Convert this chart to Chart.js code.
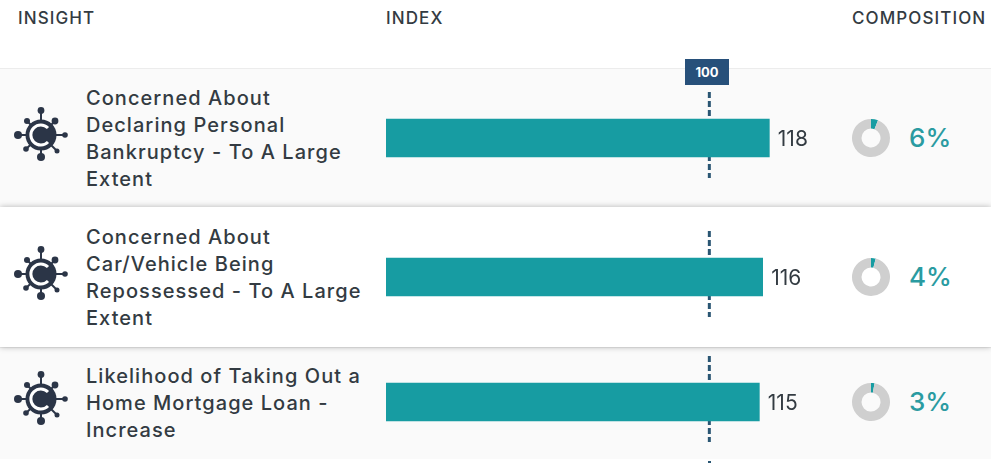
<!DOCTYPE html>
<html>
<head>
<meta charset="utf-8">
<script src="https://cdn.jsdelivr.net/npm/chart.js@4"></script>
<style>
    html, body { margin: 0; padding: 0; background: #fff; }
    #page {
        position: relative; width: 991px; height: 463px; overflow: hidden;
        font-family: Inter, "Open Sans", sans-serif; color: #333b42;
    }
    .head { position: absolute; top: 9px; font-size: 17px; font-weight: 500; line-height: 19px; letter-spacing: 1.1px; white-space: nowrap; }
    .row { position: absolute; left: 0; width: 991px; box-sizing: border-box; }
    .row.grey { background: #fafafa; border-top: 1px solid #ececec; }
    .row.raised { background: #fff; box-shadow: 0 0 6px rgba(0, 0, 0, 0.28); z-index: 1; }
    .label {
        position: absolute; left: 86px; width: 295px; z-index: 2;
        font-size: 20px; font-weight: 500; line-height: 27px; letter-spacing: 1.05px; white-space: nowrap;
    }
    .icon { position: absolute; left: 13px; width: 56px; height: 56px; z-index: 2; }
    .pct { position: absolute; left: 909px; font-size: 26px; font-weight: 500; line-height: 30px; color: #2a9ba1; z-index: 2; }
    canvas { position: absolute; z-index: 2; }
    #refTag {
        position: absolute; left: 685px; top: 59px; width: 44px; height: 26px; z-index: 3;
        background: #27507a; color: #fff; font-size: 13px; font-weight: 700;
        line-height: 26px; text-align: center;
    }
    #stub { position: absolute; left: 708px; top: 461px; width: 3px; height: 2px; background: #2a5673; }
</style>
</head>
<body>
<div id="page">
    <svg width="0" height="0" style="position:absolute">
        <symbol id="insightIcon" viewBox="0 0 56 56">
            <g stroke="#2b3547" stroke-width="2" fill="#2b3547">
                <line x1="28" y1="28" x2="28" y2="3"/>
                <line x1="28" y1="28" x2="52" y2="28"/>
                <line x1="28" y1="28" x2="28" y2="50"/>
                <line x1="28" y1="28" x2="5" y2="28"/>
                <line x1="28" y1="28" x2="42" y2="14"/>
                <line x1="28" y1="28" x2="14" y2="14"/>
                <line x1="28" y1="28" x2="13" y2="42"/>
                <line x1="28" y1="28" x2="44" y2="44"/>
                <circle cx="28" cy="3.5" r="3.4" stroke="none"/>
                <circle cx="52" cy="28" r="2.8" stroke="none"/>
                <circle cx="28" cy="50" r="4" stroke="none"/>
                <circle cx="5" cy="28" r="4" stroke="none"/>
                <circle cx="42" cy="14" r="3.4" stroke="none"/>
                <circle cx="14" cy="14" r="3" stroke="none"/>
                <circle cx="13" cy="42" r="2.8" stroke="none"/>
                <circle cx="44" cy="44" r="2.5" stroke="none"/>
                <circle cx="28" cy="28" r="15.5" stroke="none"/>
            </g>
            <path d="M35 21 A10 10 0 1 0 35 35" fill="none" stroke="#fff" stroke-width="3"/>
        </symbol>
    </svg>
    <div class="head" style="left:18px">INSIGHT</div>
    <div class="head" style="left:386px">INDEX</div>
    <div class="head" style="left:852px">COMPOSITION</div>
    <div id="refTag"></div>
    <div id="stub"></div>
</div>

<script>
// Data
const categories = [
    ['Concerned About', 'Declaring Personal', 'Bankruptcy - To A Large', 'Extent'],
    ['Concerned About', 'Car/Vehicle Being', 'Repossessed - To A Large', 'Extent'],
    ['Likelihood of Taking Out a', 'Home Mortgage Loan -', 'Increase']
];
const indexValues = [118, 116, 115];
const compositionValues = [6, 4, 3];
const referenceIndex = 100;

// Layout of the three rows
const rowTops = [68, 207, 347];
const rowHeights = [139, 140, 112];
const rowStyles = ['grey', 'raised', 'grey'];
const barCenters = [138, 277, 402];
const labelTops = [85, 224, 363];

const teal = '#179ca2';
const page = document.getElementById('page');

document.getElementById('refTag').textContent = referenceIndex;

// Dashed reference line behind the bar, the value to the right of it
const indexDecor = {
    id: 'indexDecor',
    beforeDatasetsDraw(chart) {
        const ctx = chart.ctx;
        const x = chart.scales.x.getPixelForValue(referenceIndex);
        ctx.save();
        ctx.strokeStyle = '#2a5673';
        ctx.lineWidth = 3;
        ctx.setLineDash([6, 3]);
        ctx.beginPath();
        ctx.moveTo(x, 0);
        ctx.lineTo(x, 86);
        ctx.stroke();
        ctx.restore();
    },
    afterDatasetsDraw(chart) {
        const ctx = chart.ctx;
        const bar = chart.getDatasetMeta(0).data[0];
        ctx.save();
        ctx.fillStyle = '#333b42';
        ctx.font = '21px Inter, sans-serif';
        ctx.textBaseline = 'middle';
        ctx.fillText(chart.data.datasets[0].data[0], bar.x + 8.5, bar.y + 2);
        ctx.restore();
    }
};

function addCanvas(left, top, width, height) {
    const canvas = document.createElement('canvas');
    canvas.style.left = left + 'px';
    canvas.style.top = top + 'px';
    canvas.style.width = width + 'px';
    canvas.style.height = height + 'px';
    canvas.width = width;
    canvas.height = height;
    page.appendChild(canvas);
    return canvas;
}

categories.forEach((lines, i) => {
    const row = document.createElement('div');
    row.className = 'row ' + rowStyles[i];
    row.style.top = rowTops[i] + 'px';
    row.style.height = rowHeights[i] + 'px';
    page.appendChild(row);

    const label = document.createElement('div');
    label.className = 'label';
    label.style.top = labelTops[i] + 'px';
    label.innerHTML = lines.join('<br>');
    page.appendChild(label);

    const icon = document.createElementNS('http://www.w3.org/2000/svg', 'svg');
    icon.setAttribute('class', 'icon');
    icon.style.top = (barCenters[i] - 31) + 'px';
    const use = document.createElementNS('http://www.w3.org/2000/svg', 'use');
    use.setAttribute('href', '#insightIcon');
    icon.appendChild(use);
    page.appendChild(icon);

    // Index bar
    new Chart(addCanvas(386, barCenters[i] - 46, 460, 92), {
        type: 'bar',
        data: {
            labels: [lines.join(' ')],
            datasets: [{ data: [indexValues[i]], backgroundColor: teal, barThickness: 38 }]
        },
        options: {
            indexAxis: 'y',
            responsive: false,
            animation: false,
            plugins: { legend: { display: false }, tooltip: { enabled: false } },
            scales: {
                x: { display: false, min: 3, max: 141 },
                y: { display: false }
            }
        },
        plugins: [indexDecor]
    });

    // Composition ring
    new Chart(addCanvas(851, barCenters[i] - 20, 40, 40), {
        type: 'doughnut',
        data: {
            labels: ['In segment', 'Rest'],
            datasets: [{
                data: [compositionValues[i], 100 - compositionValues[i]],
                backgroundColor: [teal, '#cfcfcf'],
                borderWidth: 0
            }]
        },
        options: {
            responsive: false,
            animation: false,
            cutout: '50%',
            layout: { padding: 1 },
            plugins: { legend: { display: false }, tooltip: { enabled: false } }
        }
    });

    const pct = document.createElement('div');
    pct.className = 'pct';
    pct.style.top = (barCenters[i] - 15) + 'px';
    pct.textContent = compositionValues[i] + '%';
    page.appendChild(pct);
});
</script>
</body>
</html>
